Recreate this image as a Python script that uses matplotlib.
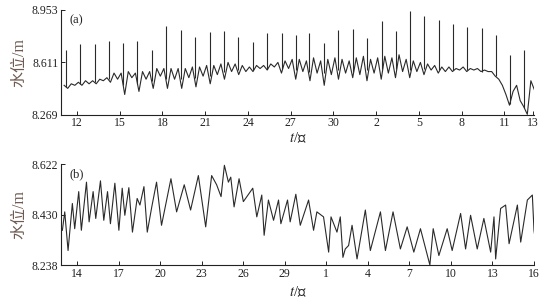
import numpy as np
import matplotlib
matplotlib.use("Agg")
import matplotlib.pyplot as plt

plt.rcParams["mathtext.fontset"] = "stix"

# ---------------- data ----------------
# panel (a): base water level sampled every 0.25 day, day 0 = the 12th
a_start = -0.9
a_step = 0.25
a_level = [
    8.46, 8.44, 8.47, 8.46,
    8.48, 8.46, 8.49, 8.47,
    8.49, 8.47, 8.50, 8.49,
    8.51, 8.48, 8.54, 8.50,
    8.54, 8.40, 8.55, 8.51,
    8.54, 8.42, 8.55, 8.50,
    8.55, 8.44, 8.57, 8.52,
    8.57, 8.44, 8.57, 8.50,
    8.57, 8.44, 8.57, 8.51,
    8.58, 8.45, 8.58, 8.52,
    8.59, 8.47, 8.59, 8.53,
    8.60, 8.50, 8.61, 8.55,
    8.60, 8.53, 8.59, 8.55,
    8.58, 8.55, 8.59, 8.57,
    8.59, 8.56, 8.60, 8.58,
    8.61, 8.54, 8.62, 8.57,
    8.63, 8.50, 8.63, 8.55,
    8.62, 8.49, 8.64, 8.54,
    8.62, 8.46, 8.63, 8.53,
    8.64, 8.50, 8.63, 8.54,
    8.62, 8.51, 8.64, 8.53,
    8.65, 8.49, 8.63, 8.54,
    8.64, 8.50, 8.65, 8.54,
    8.64, 8.51, 8.66, 8.55,
    8.63, 8.51, 8.62, 8.55,
    8.61, 8.53, 8.60, 8.56,
    8.59, 8.54, 8.58, 8.55,
    8.58, 8.55, 8.57, 8.56,
    8.58, 8.55, 8.57, 8.56,
    8.57, 8.55, 8.56, 8.55,
    8.55, 8.52, 8.50, 8.46,
    8.40, 8.33, 8.42, 8.46,
    8.36, 8.32, 8.27, 8.49,
    8.43,
]
# daily spikes in panel (a)
a_spike_day = [-0.80, 0.23, 1.24, 2.25, 3.23, 4.24, 5.25, 6.28, 7.28, 8.31,
               9.32, 10.33, 11.33, 12.32, 13.35, 14.36, 15.34, 16.30, 17.33,
               18.34, 19.34, 20.35, 21.38, 22.39, 23.37, 24.38, 25.39, 26.37,
               27.40, 28.40, 29.41, 30.40, 31.40]
a_spike_low = [8.45, 8.47, 8.48, 8.50, 8.46, 8.47, 8.49, 8.50, 8.50, 8.51,
               8.52, 8.55, 8.56, 8.56, 8.57, 8.57, 8.56, 8.55, 8.54,
               8.56, 8.55, 8.56, 8.57, 8.57, 8.56, 8.57, 8.56, 8.56,
               8.56, 8.55, 8.52, 8.34, 8.31]
a_spike_high = [8.694, 8.731, 8.731, 8.748, 8.740, 8.748, 8.694, 8.851, 8.825, 8.777,
                8.809, 8.814, 8.777, 8.744, 8.803, 8.803, 8.792, 8.803, 8.737,
                8.825, 8.831, 8.770, 8.879, 8.818, 8.949, 8.912, 8.890, 8.862,
                8.840, 8.836, 8.792, 8.661, 8.694]
a_ticks = [0, 3, 6, 9, 12, 15, 18, 21, 24, 27, 30, 32]
a_ticklabels = ["12", "15", "18", "21", "24", "27", "30", "2", "5", "8", "11", "13"]
a_yticks = [8.269, 8.611, 8.953]

# panel (b): turning points (day, level), day 0 = the 14th
b_day = [-1.06, -0.89, -0.65, -0.34, -0.17, 0.12, 0.31, 0.68, 0.87, 1.16,
         1.35, 1.69, 1.93, 2.20, 2.41, 2.73, 3.02, 3.26, 3.45, 3.74,
         4.00, 4.34, 4.54, 4.83, 5.07, 5.40, 5.74, 6.10, 6.78, 7.19,
         7.74, 8.20, 8.76, 9.29, 9.72, 10.08, 10.40, 10.64, 10.93, 11.10,
         11.34, 11.70, 12.01, 12.69, 12.98, 13.34, 13.51, 13.82, 14.19, 14.55,
         14.72, 15.20, 15.39, 15.80, 16.12, 16.72, 17.08, 17.32, 17.80, 18.17,
         18.34, 18.77, 19.01, 19.20, 19.37, 19.61, 19.86, 20.22, 20.82, 21.18,
         21.91, 22.27, 22.82, 23.35, 23.84, 24.32, 24.80, 25.48, 25.72, 26.13,
         26.73, 27.09, 27.70, 28.06, 28.42, 28.90, 29.38, 29.87, 30.11, 30.23,
         30.59, 30.95, 31.20, 31.80, 32.04, 32.52, 32.88, 33.00, 33.10]
b_level = [8.370, 8.440, 8.293, 8.472, 8.376, 8.517, 8.370, 8.553, 8.402, 8.517,
           8.415, 8.558, 8.408, 8.517, 8.395, 8.549, 8.370, 8.530, 8.427, 8.532,
           8.363, 8.491, 8.466, 8.536, 8.363, 8.460, 8.553, 8.389, 8.566, 8.440,
           8.543, 8.447, 8.578, 8.383, 8.578, 8.543, 8.498, 8.617, 8.553, 8.572,
           8.459, 8.566, 8.479, 8.530, 8.421, 8.504, 8.351, 8.485, 8.408, 8.485,
           8.395, 8.485, 8.402, 8.507, 8.389, 8.485, 8.370, 8.440, 8.421, 8.287,
           8.421, 8.363, 8.421, 8.267, 8.299, 8.312, 8.389, 8.261, 8.447, 8.293,
           8.440, 8.293, 8.440, 8.299, 8.383, 8.287, 8.376, 8.238, 8.376, 8.274,
           8.376, 8.293, 8.434, 8.299, 8.427, 8.299, 8.415, 8.287, 8.421, 8.261,
           8.453, 8.466, 8.319, 8.466, 8.325, 8.485, 8.504, 8.370, 8.331]
b_ticks = [0, 3, 6, 9, 12, 15, 18, 21, 24, 27, 30, 33]
b_ticklabels = ["14", "17", "20", "23", "26", "29", "1", "4", "7", "10", "13", "16"]
b_yticks = [8.238, 8.430, 8.622]

# ---------------- drawing ----------------
W, H = 548, 303
fig = plt.figure(figsize=(W / 100, H / 100), dpi=100)
serif = ["Liberation Serif", "Noto Sans CJK SC"]
line_col = "#2a2a2a"


def style(ax, xlim, ylim, xt, xtl, yt, tag, xpad):
    ax.set_xlim(*xlim)
    ax.set_ylim(*ylim)
    ax.set_xticks(xt)
    ax.set_xticklabels(xtl)
    ax.set_yticks(yt)
    ax.set_yticklabels([f"{v:.3f}" for v in yt])
    for s in ("top", "right"):
        ax.spines[s].set_visible(False)
    for s in ("left", "bottom"):
        ax.spines[s].set_linewidth(0.8)
        ax.spines[s].set_color("#222222")
    ax.tick_params(direction="in", length=3, width=0.7, pad=2,
                   labelsize=8.5, colors="#222222")
    for lab in ax.get_xticklabels() + ax.get_yticklabels():
        lab.set_family(serif)
    ax.set_ylabel("水位/m", family=serif, fontsize=11.5, color="#6e5a50", labelpad=3)
    ax.text(0.018, 0.96, tag, transform=ax.transAxes, family=serif,
            fontsize=9, va="top", ha="left", color="#222222")
    ax.set_xlabel("$t$/日", family=serif, fontsize=10.5, labelpad=xpad,
                  color="#222222")


ax1 = fig.add_axes([61 / W, 1 - 114.5 / H, (534 - 61) / W, (114.5 - 10) / H])
ta = a_start + a_step * np.arange(len(a_level))
ax1.plot(ta, a_level, color=line_col, lw=0.8)
ax1.vlines(a_spike_day, a_spike_low, a_spike_high, color=line_col, lw=0.8)
style(ax1, (-1.12, 32.07), (8.269, 8.953), a_ticks, a_ticklabels, a_yticks, "(a)", 1)

ax2 = fig.add_axes([61 / W, 1 - 265 / H, (534 - 61) / W, (265 - 164) / H])
ax2.plot(b_day, b_level, color=line_col, lw=0.8)
style(ax2, (-1.16, 33.0), (8.238, 8.622), b_ticks, b_ticklabels, b_yticks, "(b)", 3)

fig.savefig("out.png", dpi=100)
